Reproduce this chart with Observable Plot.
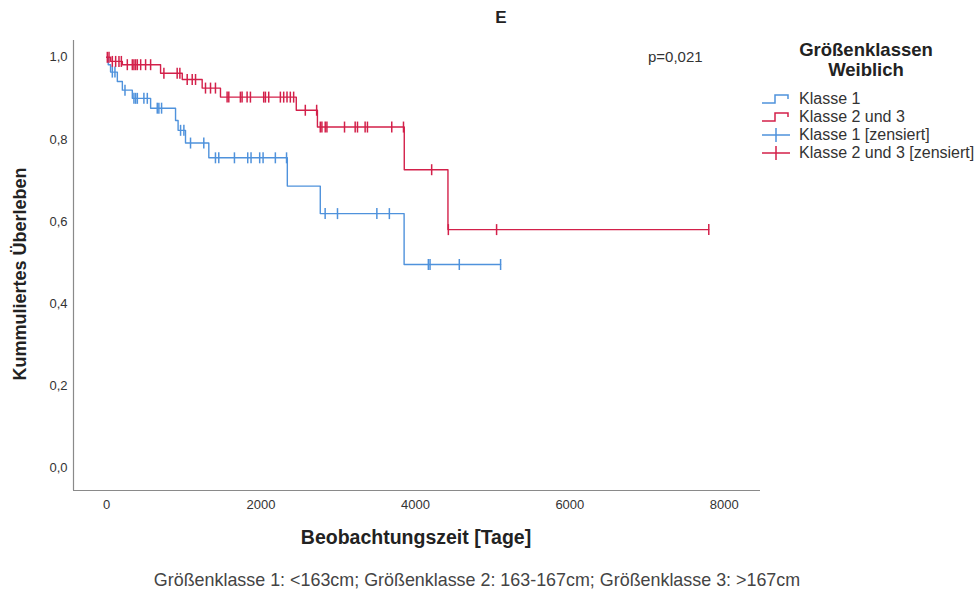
<!DOCTYPE html>
<html><head><meta charset="utf-8">
<script src="https://cdn.jsdelivr.net/npm/d3@7"></script>
<script src="https://cdn.jsdelivr.net/npm/@observablehq/plot@0.6"></script>
<style>
body{margin:0;background:#fff;font-family:"Liberation Sans",Arial,sans-serif;}
#wrap{position:relative;width:977px;height:595px;overflow:hidden;}
.abs{position:absolute;white-space:nowrap;color:#222;}
.leg{position:absolute;left:760px;width:217px;height:18px;color:#333;}
.leg svg{position:absolute;left:0;top:1px;}
.leg span{position:absolute;left:39px;top:0;font-size:16px;line-height:18px;white-space:nowrap;}
</style></head><body><div id="wrap"></div>
<script>
// ---- data ----
const seriesNames = ["Klasse 1", "Klasse 2 und 3"];
const colors = ["#4f92dc", "#d3204a"];

// Klasse 1: step times (days) and survival after each step
const k1Times = [0, 20, 50, 138, 203, 332, 569, 892, 925, 1021, 1323, 2340, 2767, 3853];
const k1Surv  = [1.0, 0.982, 0.964, 0.941, 0.920, 0.900, 0.876, 0.846, 0.822, 0.791, 0.755, 0.686, 0.619, 0.495];
const k1End = 5103;
const k1Censored = [73, 107, 237, 353, 375, 397, 482, 526, 655, 676, 711, 957, 1000, 1086, 1258, 1409, 1452, 1655, 1827, 1870, 1982, 2026, 2185, 2330, 2830, 2990, 3500, 3662, 4167, 4189, 4568, 5103];

// Klasse 2 und 3
const k23Times = [0, 52, 203, 698, 979, 1237, 1474, 2456, 2730, 3855, 4421];
const k23Surv  = [1.0, 0.990, 0.982, 0.961, 0.946, 0.925, 0.903, 0.871, 0.830, 0.726, 0.580];
const k23End = 7800;
const k23Censored = [8, 30, 73, 116, 159, 190, 267, 332, 353, 375, 397, 440, 504, 569, 741, 913, 948, 1043, 1108, 1151, 1280, 1345, 1409, 1560, 1582, 1732, 1754, 1819, 1862, 2034, 2056, 2099, 2250, 2293, 2336, 2379, 2422, 2573, 2720, 2767, 2788, 2831, 2853, 3081, 3219, 3249, 3348, 3378, 3693, 3845, 4210, 4426, 5051, 7800];

const xTicks = [0, 2000, 4000, 6000, 8000];
const yTicks = [0, 0.2, 0.4, 0.6, 0.8, 1.0];
const xDomain = [-430, 8470];
const yDomain = [-0.056, 1.041];

// ---- build tables ----
function steps(times, surv, end, name) {
  const rows = times.map((t, i) => ({t, s: surv[i], g: name}));
  rows.push({t: end, s: surv[surv.length - 1], g: name});
  return rows;
}
function censor(times, surv, cens, name) {
  const bis = d3.bisector(d => d).right;
  return cens.map(c => ({t: c, s: surv[Math.max(0, bis(times, c) - 1)], g: name}));
}
const stepData = [
  ...steps(k1Times, k1Surv, k1End, seriesNames[0]),
  ...steps(k23Times, k23Surv, k23End, seriesNames[1])
];
const censData = [
  ...censor(k1Times, k1Surv, k1Censored, seriesNames[0]),
  ...censor(k23Times, k23Surv, k23Censored, seriesNames[1])
];

const vtick = {draw(ctx, size) { const h = Math.sqrt(size / Math.PI); ctx.moveTo(0, -h); ctx.lineTo(0, h); }};

const chart = Plot.plot({
  width: 977, height: 595,
  marginLeft: 73, marginRight: 217, marginTop: 40, marginBottom: 105,
  style: {fontFamily: '"Liberation Sans", Arial, sans-serif', fontSize: "13px", color: "#333", background: "transparent"},
  x: {domain: xDomain},
  y: {domain: yDomain},
  color: {domain: seriesNames, range: colors},
  marks: [
    Plot.ruleX([xDomain[0]], {stroke: "#8a8a8a", strokeWidth: 1.2}),
    Plot.ruleY([yDomain[0]], {stroke: "#8a8a8a", strokeWidth: 1.2}),
    Plot.axisX({ticks: xTicks, tickSize: 0, tickPadding: 9, tickFormat: d => String(d), label: null, fill: "#333"}),
    Plot.axisY({ticks: yTicks, tickSize: 0, tickPadding: 6, tickFormat: d => d.toFixed(1).replace(".", ","), label: null, fill: "#333"}),
    Plot.line(stepData, {x: "t", y: "s", z: "g", stroke: "g", curve: "step-after", strokeWidth: 1.4}),
    Plot.dot(censData, {x: "t", y: "s", stroke: "g", symbol: vtick, r: 5.5, strokeWidth: 1.5})
  ]
});
const wrap = document.getElementById("wrap");
chart.style.position = "absolute"; chart.style.left = "0"; chart.style.top = "0";
wrap.appendChild(chart);

function addText(txt, css) {
  const d = document.createElement("div");
  d.className = "abs"; d.textContent = txt;
  Object.assign(d.style, css);
  wrap.appendChild(d);
  return d;
}
addText("E", {left: "501px", top: "8px", fontWeight: "bold", fontSize: "17px", transform: "translateX(-50%)"});
addText("p=0,021", {left: "648px", top: "48px", fontSize: "15px", color: "#333"});
addText("Beobachtungszeit [Tage]", {left: "416px", top: "526px", fontWeight: "bold", fontSize: "19.5px", transform: "translateX(-50%)"});
addText("Kummuliertes Überleben", {left: "20px", top: "274px", fontWeight: "bold", fontSize: "18px", transform: "translate(-50%,-50%) rotate(-90deg)"});
addText("Größenklasse 1: <163cm; Größenklasse 2: 163-167cm; Größenklasse 3: >167cm", {left: "477px", top: "570px", fontSize: "17.9px", color: "#444", transform: "translateX(-50%)"});

const lt = addText("", {left: "760px", width: "212px", top: "40px", fontWeight: "bold", fontSize: "18.5px", textAlign: "center", lineHeight: "20px"});
lt.innerHTML = "Größenklassen<br>Weiblich";

const legendItems = [
  {label: seriesNames[0], c: colors[0], kind: "step"},
  {label: seriesNames[1], c: colors[1], kind: "step"},
  {label: seriesNames[0] + " [zensiert]", c: colors[0], kind: "cross"},
  {label: seriesNames[1] + " [zensiert]", c: colors[1], kind: "cross"}
];
const legendY = [99, 117, 135, 153];
legendItems.forEach((it, i) => {
  const d = document.createElement("div");
  d.className = "leg";
  d.style.top = (legendY[i] - 9) + "px";
  const svg = d3.create("svg").attr("width", 32).attr("height", 16);
  if (it.kind === "step") {
    svg.append("path").attr("d", "M2,12H15V4H28V8").attr("fill", "none").attr("stroke", it.c).attr("stroke-width", 1.5);
  } else {
    svg.append("path").attr("d", "M2,8H30M16,1V15").attr("fill", "none").attr("stroke", it.c).attr("stroke-width", 1.5);
  }
  d.appendChild(svg.node());
  const s = document.createElement("span"); s.textContent = it.label;
  d.appendChild(s);
  wrap.appendChild(d);
});
</script></body></html>
